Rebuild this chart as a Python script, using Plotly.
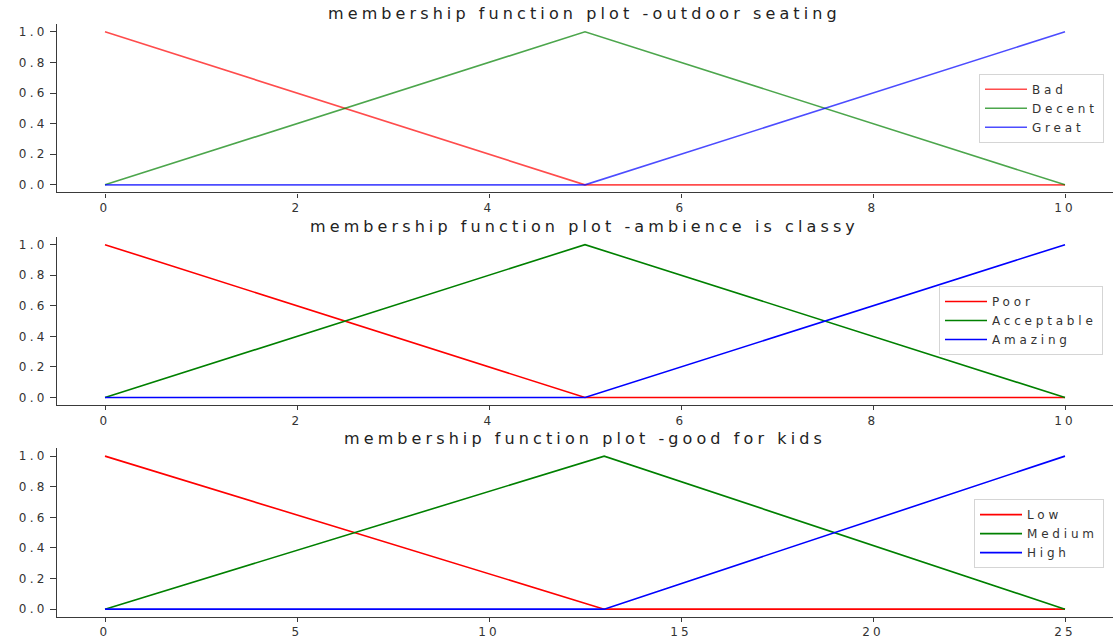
import plotly.graph_objects as go

# Membership function vertices for each fuzzy variable
outdoor_x = [0, 5, 10]
outdoor_bad = [1.0, 0.0, 0.0]
outdoor_decent = [0.0, 1.0, 0.0]
outdoor_great = [0.0, 0.0, 1.0]

ambience_x = [0, 5, 10]
ambience_poor = [1.0, 0.0, 0.0]
ambience_acceptable = [0.0, 1.0, 0.0]
ambience_amazing = [0.0, 0.0, 1.0]

kids_x = [0, 13, 25]
kids_low = [1.0, 0.0, 0.0]
kids_medium = [0.0, 1.0, 0.0]
kids_high = [0.0, 0.0, 1.0]

titles = [
    "membership function plot -outdoor seating",
    "membership function plot -ambience is classy",
    "membership function plot -good for kids",
]
x_ticks_small = [0, 2, 4, 6, 8, 10]
x_ticks_kids = [0, 5, 10, 15, 20, 25]
y_ticks = [0.0, 0.2, 0.4, 0.6, 0.8, 1.0]

W, H = 1113, 639
TXT = "#333333"
AX = "#3a3a3a"


def wide(text, spacing):
    return f"<span style='letter-spacing:{spacing}px'>{text}</span>"


def py(px):
    return 1 - px / H


# vertical extent of each panel (pixel rows: top, bottom)
panels = [(24.3, 193.7), (238.5, 407.7), (451.3, 620.7)]
title_rows = [14, 228, 441]
legend_mids = [109, 322.5, 537]
legend_rights = [1104, 1103, 1104]

red, green, blue = "#ff0000", "#008000", "#0000ff"
faded = ["rgba(255,0,0,0.7)", "rgba(0,128,0,0.7)", "rgba(0,0,255,0.7)"]

series = [
    (outdoor_x, [("Bad", outdoor_bad), ("Decent", outdoor_decent), ("Great", outdoor_great)], faded),
    (ambience_x, [("Poor", ambience_poor), ("Acceptable", ambience_acceptable), ("Amazing", ambience_amazing)], [red, green, blue]),
    (kids_x, [("Low", kids_low), ("Medium", kids_medium), ("High", kids_high)], [red, green, blue]),
]

fig = go.Figure()
for i, (xs, curves, colors) in enumerate(series):
    sfx = "" if i == 0 else str(i + 1)
    for (name, ys), col in zip(curves, colors):
        fig.add_trace(go.Scatter(
            x=xs, y=ys, mode="lines", name=wide(name, 3.8),
            line=dict(color=col, width=1.6),
            xaxis="x" + sfx, yaxis="y" + sfx, legend="legend" + sfx,
        ))

layout = dict(
    width=W, height=H,
    margin=dict(l=0, r=0, t=0, b=0),
    paper_bgcolor="white", plot_bgcolor="white",
    font=dict(family="DejaVu Sans", size=12, color=TXT),
    annotations=[],
)

tick_font = dict(family="DejaVu Sans", size=12, color=TXT)
for i in range(3):
    sfx = "" if i == 0 else str(i + 1)
    top, bot = panels[i]
    xt = x_ticks_kids if i == 2 else x_ticks_small
    xmax = 25 if i == 2 else 10
    pad = xmax * 0.05
    layout["xaxis" + sfx] = dict(
        domain=[57 / W, 1.0], anchor="y" + sfx,
        range=[-pad, xmax + pad],
        tickmode="array", tickvals=xt, ticktext=[wide(str(v), 3.2) for v in xt],
        showline=True, linecolor=AX, linewidth=1.2,
        ticks="outside", ticklen=4, tickwidth=1.2, tickcolor=AX,
        showgrid=False, zeroline=False, tickfont=tick_font,
    )
    layout["yaxis" + sfx] = dict(
        domain=[py(bot), py(top)], anchor="x" + sfx,
        range=[-0.05, 1.05],
        tickmode="array", tickvals=y_ticks, ticktext=[wide(f"{v:.1f}", 3.2) for v in y_ticks],
        showline=True, linecolor=AX, linewidth=1.2,
        ticks="outside", ticklen=6, tickwidth=1.2, tickcolor=AX,
        showgrid=False, zeroline=False, tickfont=tick_font,
    )
    layout["legend" + sfx] = dict(
        x=legend_rights[i] / W, xanchor="right",
        y=py(legend_mids[i]), yanchor="middle",
        bgcolor="rgba(255,255,255,0.8)", bordercolor="#d5d5d5", borderwidth=1,
        font=dict(family="DejaVu Sans", size=12, color=TXT),
        tracegroupgap=0, itemwidth=42,
    )
    layout["annotations"].append(dict(
        text=wide(titles[i], 4.1), xref="paper", yref="paper",
        x=585 / W, y=py(title_rows[i]), xanchor="center", yanchor="middle",
        showarrow=False, font=dict(family="DejaVu Sans", size=16, color="#222222"),
    ))

fig.update_layout(**layout)
fig.write_html("out.html")
